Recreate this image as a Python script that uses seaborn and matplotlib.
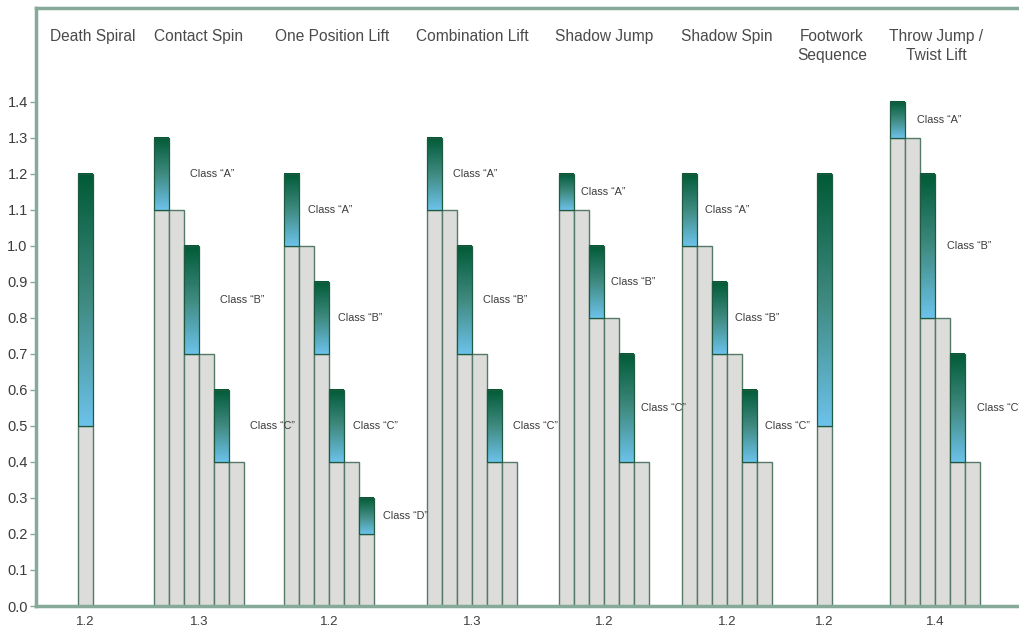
import numpy as np
import pandas as pd
import seaborn as sns
import matplotlib.pyplot as plt
from matplotlib.colors import LinearSegmentedColormap
from matplotlib.patches import Rectangle

# Data: pair skating elements, gray base level and class top level per bar
elements = ["Death Spiral", "Contact Spin", "One Position Lift", "Combination Lift",
            "Shadow Jump", "Shadow Spin", "Footwork\nSequence", "Throw Jump /\nTwist Lift"]
factors = ["1.2", "1.3", "1.2", "1.3", "1.2", "1.2", "1.2", "1.4"]

base_levels = [
    [0.5],
    [1.1, 1.1, 0.7, 0.7, 0.4, 0.4],
    [1.0, 1.0, 0.7, 0.4, 0.4, 0.2],
    [1.1, 1.1, 0.7, 0.7, 0.4, 0.4],
    [1.1, 1.1, 0.8, 0.8, 0.4, 0.4],
    [1.0, 1.0, 0.7, 0.7, 0.4, 0.4],
    [0.5],
    [1.3, 1.3, 0.8, 0.8, 0.4, 0.4],
]
top_levels = [
    [1.2],
    [1.3, 1.1, 1.0, 0.7, 0.6, 0.4],
    [1.2, 1.0, 0.9, 0.6, 0.4, 0.3],
    [1.3, 1.1, 1.0, 0.7, 0.6, 0.4],
    [1.2, 1.1, 1.0, 0.8, 0.7, 0.4],
    [1.2, 1.0, 0.9, 0.7, 0.6, 0.4],
    [1.2],
    [1.4, 1.3, 1.2, 0.8, 0.7, 0.4],
]
class_letters = ["A", "B", "C", "D"]

# Layout (in bar widths)
group_left = [2.8, 7.87, 16.53, 26.07, 34.87, 43.07, 52.07, 56.93]
label_dx = [0, 1.4, 0.6, 0.75, 0.45, 0.5, 0, 0.8]
title_dx = [0.45, 0, 0.2, 0, 0, 0, 0.5, 0.1]

gray = "#dcdcda"
edge = "#557a68"
frame = "#86a99a"
txt = "#3c3c3c"
cmap = LinearSegmentedColormap.from_list("cls", ["#6cc2ea", "#3f8a80", "#005a36"])

sns.set_style("white")
plt.rcParams["font.family"] = ["Liberation Sans Narrow", "Liberation Sans", "DejaVu Sans"]

# Build bar table
rows = []
for g, (bases, tops) in enumerate(zip(base_levels, top_levels)):
    for i, (b, t) in enumerate(zip(bases, tops)):
        rows.append({"group": g, "idx": i, "x": group_left[g] + 0.5 + i, "base": b, "top": t})
bars = pd.DataFrame(rows)

fig = plt.figure(figsize=(10.2, 6.29), dpi=100)
ax = fig.add_axes([36 / 1020, 23 / 629, 984 / 1020, 598 / 629])

sns.barplot(data=bars, x="x", y="base", native_scale=True, width=1, color=gray,
            saturation=1, edgecolor=edge, linewidth=1, errorbar=None, ax=ax, zorder=2)

# Gradient class segments
grad = np.linspace(0, 1, 256).reshape(-1, 1)
for g in range(len(elements)):
    sub = bars[(bars["group"] == g) & (bars["top"] > bars["base"])]
    multi = len(base_levels[g]) > 1
    for k, (_, r) in enumerate(sub.iterrows()):
        ax.imshow(grad, extent=[r["x"] - 0.5, r["x"] + 0.5, r["base"], r["top"]],
                  origin="lower", aspect="auto", cmap=cmap, zorder=3, interpolation="bilinear")
        ax.add_patch(Rectangle((r["x"] - 0.5, r["base"]), 1, r["top"] - r["base"],
                               facecolor="none", edgecolor="#1f5a40", linewidth=0.9, zorder=4))
        if multi:
            ax.text(r["x"] + 0.5 + label_dx[g], (r["base"] + r["top"]) / 2,
                    "Class \u201c%s\u201d" % class_letters[k], fontsize=7.8, color=txt,
                    ha="left", va="center", zorder=5)

# Element titles and factor labels
centres = [group_left[g] + len(base_levels[g]) / 2 for g in range(len(elements))]
for g, name in enumerate(elements):
    ax.text(centres[g] + title_dx[g], 0.965, name, transform=ax.get_xaxis_transform(),
            ha="center", va="top", fontsize=11.2, color="#4a4a4a", linespacing=1.35)

ax.set_xlim(0, 65.6)
ax.set_ylim(0, 1.661)
ax.set_xticks(centres)
ax.set_xticklabels(factors, fontsize=9.5, color=txt)
ax.set_yticks(np.arange(0, 1.45, 0.1))
ax.set_yticklabels(["%.1f" % v for v in np.arange(0, 1.45, 0.1)], fontsize=10.5, color=txt)
ax.tick_params(axis="x", length=0, pad=7)
ax.tick_params(axis="y", length=4, width=1, color=frame, pad=2, left=True)
ax.set_xlabel("")
ax.set_ylabel("")

for side in ["left", "top", "bottom"]:
    ax.spines[side].set_color(frame)
    ax.spines[side].set_linewidth(2.5)
ax.spines["right"].set_visible(False)

fig.savefig("out.png", dpi=100)
